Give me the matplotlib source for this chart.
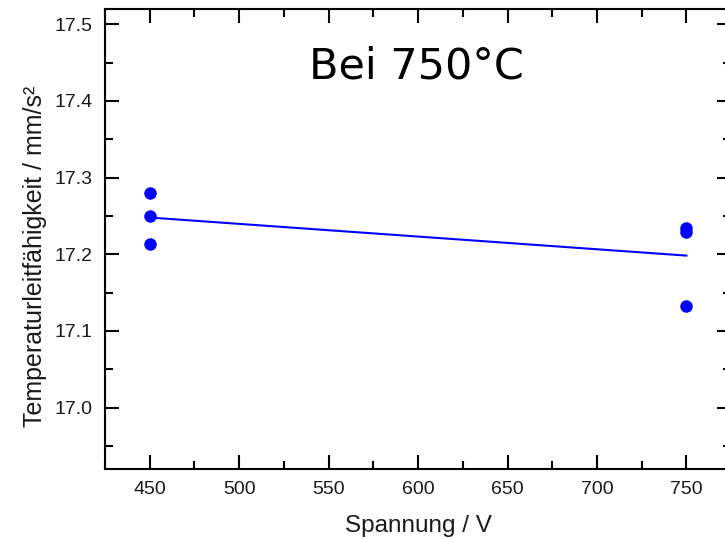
import numpy as np
import matplotlib
matplotlib.use("Agg")
import matplotlib.pyplot as plt
from matplotlib.ticker import MultipleLocator

plt.rcParams['font.family'] = ['Liberation Sans', 'DejaVu Sans']

voltage = [450, 450, 450, 750, 750, 750]
diffusivity = [17.280, 17.250, 17.214, 17.234, 17.229, 17.132]
x_ticks = [450, 500, 550, 600, 650, 700, 750]
y_ticks = [17.0, 17.1, 17.2, 17.3, 17.4, 17.5]

fig = plt.figure(figsize=(7.25, 5.39), dpi=100)
ax = fig.add_axes([0.1448, 0.1299, 0.8637, 0.8534])

ax.plot(voltage, diffusivity, 'o', color='#0000ff', markersize=9, markeredgewidth=0)
k, d = np.polyfit(voltage, diffusivity, 1)
xf = np.array([min(voltage), max(voltage)])
ax.plot(xf, k * xf + d, '-', color='#0000ff', linewidth=1.5)

ax.set_xlim(425, 775)
ax.set_ylim(16.92, 17.52)
ax.set_xticks(x_ticks)
ax.set_yticks(y_ticks)
ax.set_yticklabels([f"{v:.1f}" for v in y_ticks])
ax.xaxis.set_minor_locator(MultipleLocator(25))
ax.yaxis.set_minor_locator(MultipleLocator(0.05))
ax.tick_params(which='both', direction='in', top=True, right=True, width=1.5,
               labelsize=14, colors='black', labelcolor='#1a1a1a')
ax.tick_params(which='major', length=10, pad=9)
ax.tick_params(which='minor', length=6)
for s in ax.spines.values():
    s.set_linewidth(1.5)

ax.set_xlabel('Spannung / V', fontsize=17.5, labelpad=12, color='#1a1a1a')
ax.set_ylabel('Temperaturleitfähigkeit / mm/s²', fontsize=18, labelpad=5, color='#1a1a1a', y=0.463)
ax.text(599, 17.429, 'Bei 750°C', fontsize=31, ha='center', va='baseline', color='black',
        family='DejaVu Sans')

fig.savefig('out.png', dpi=100)
